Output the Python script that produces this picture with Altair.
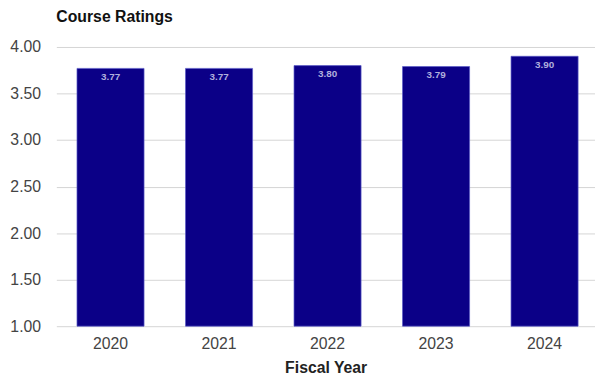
import altair as alt
import pandas as pd

years = ["2020", "2021", "2022", "2023", "2024"]
ratings = [3.77, 3.77, 3.80, 3.79, 3.90]

df = pd.DataFrame({"year": years, "rating": ratings})

grid_vals = [1.0 + 0.25 * i for i in range(13)]

base = alt.Chart(df)

bars = base.mark_bar(color="#0b0087", stroke="#5a5ac8", strokeWidth=0.7).encode(
    x=alt.X("year:N", title="Fiscal Year", sort=years,
            scale=alt.Scale(paddingInner=0.382, paddingOuter=0.173, align=0.55),
            axis=alt.Axis(labelAngle=0, labelFontSize=16, labelColor="#444444",
                          labelFont="Liberation Sans", labelPadding=10,
                          titleFont="Liberation Sans", titleFontSize=16,
                          titleFontWeight="bold", titleColor="#222222",
                          titlePadding=8, ticks=False, domain=False, grid=False)),
    y=alt.Y("rating:Q", title=None,
            scale=alt.Scale(domain=[1, 4], nice=False, zero=False),
            axis=alt.Axis(values=grid_vals, format=".2f",
                          labelExpr="(round(datum.value*100) % 50 == 0) ? datum.label : ''",
                          labelFontSize=16, labelColor="#444444",
                          labelFont="Liberation Sans", labelPadding=16,
                          ticks=False, domain=False, grid=True,
                          gridColor={"condition": {"test": "round(datum.value*100) % 50 == 0",
                                                   "value": "#d4d4d4"},
                                     "value": "#ececec"},
                          gridWidth=1)),
    y2=alt.datum(1),
)

labels = base.mark_text(baseline="top", dy=4, fontSize=10, fontWeight="bold",
                        font="Liberation Sans", color="#b0b0dc").encode(
    x=alt.X("year:N", sort=years),
    y=alt.Y("rating:Q"),
    text=alt.Text("rating:Q", format=".2f"),
)

chart = (bars + labels).properties(
    width=546, height=283,
    title=alt.TitleParams("Course Ratings", anchor="start", frame="group",
                          fontSize=16, fontWeight="bold", font="Liberation Sans",
                          color="#111111", dx=0, offset=14),
    autosize=alt.AutoSizeParams(type="none"),
    padding={"left": 49, "top": 37, "right": 0, "bottom": 50},
).configure_view(stroke=None)

chart.save("out.html", embed_options={"renderer": "svg", "actions": False})
